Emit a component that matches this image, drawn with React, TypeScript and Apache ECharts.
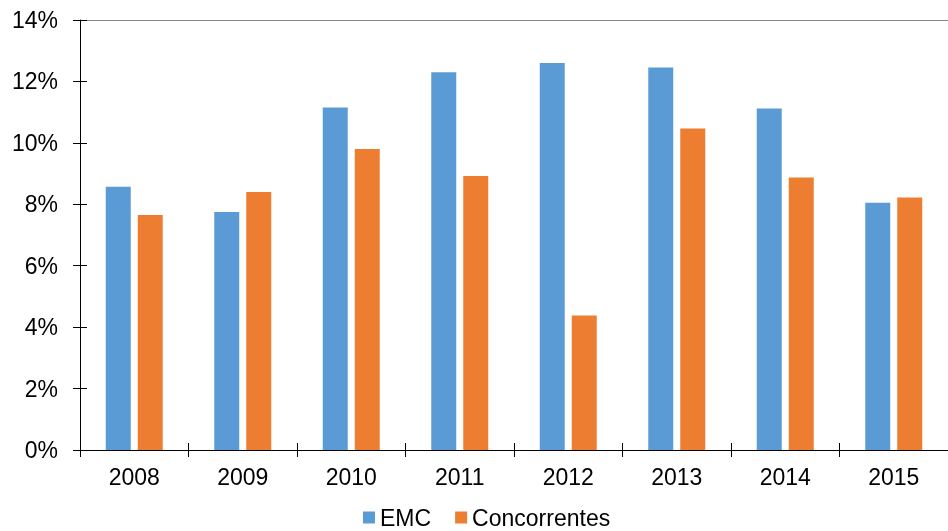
import React, { useEffect, useRef } from "react";
import * as echarts from "echarts";

const categories = ["2008", "2009", "2010", "2011", "2012", "2013", "2014", "2015"];
const emc = [8.57, 7.75, 11.15, 12.3, 12.6, 12.45, 11.12, 8.05];
const concorrentes = [7.65, 8.4, 9.8, 8.92, 4.38, 10.47, 8.87, 8.22];
const seriesNames = ["EMC", "Concorrentes"];

export default function App() {
  const ref = useRef<HTMLDivElement>(null);
  useEffect(() => {
    if (!ref.current) return;
    const chart = echarts.init(ref.current, null, { renderer: "svg" });
    const font = "Liberation Sans, Arial, sans-serif";
    chart.setOption({
      animation: false,
      textStyle: { fontFamily: font },
      grid: { left: 80, right: -10, top: 20, bottom: 81 },
      legend: {
        bottom: -3,
        left: 358,
        itemWidth: 12,
        itemHeight: 12,
        itemGap: 24,
        icon: "rect",
        textStyle: { fontSize: 23, color: "#000", fontFamily: font },
        data: seriesNames,
      },
      xAxis: [
        {
          type: "category",
          data: categories,
          axisLine: { onZero: false, lineStyle: { color: "#000", width: 1 } },
          axisTick: { show: true, length: 7, lineStyle: { color: "#000" } },
          axisLabel: { fontSize: 23, color: "#000", margin: 15, fontFamily: font },
          splitLine: { show: false },
        },
        {
          type: "category",
          data: categories,
          position: "top",
          axisLine: { onZero: false, lineStyle: { color: "#888", width: 1 } },
          axisTick: { show: false },
          axisLabel: { show: false },
        },
        {
          type: "category",
          data: categories,
          position: "bottom",
          axisLine: { show: false, onZero: false },
          axisTick: { show: true, inside: true, length: 7, lineStyle: { color: "#000" } },
          axisLabel: { show: false },
        },
      ],
      yAxis: [
        {
          type: "value",
          min: 0,
          max: 14,
          interval: 2,
          axisLine: { show: true, onZero: false, lineStyle: { color: "#000" } },
          axisTick: { show: true, length: 7, lineStyle: { color: "#000" } },
          axisLabel: {
            fontSize: 23,
            color: "#000",
            margin: 22,
            fontFamily: font,
            formatter: (v: number) => v + "%",
          },
          splitLine: { show: false },
        },
        {
          type: "value",
          min: 0,
          max: 14,
          interval: 2,
          position: "left",
          axisLine: { show: false, onZero: false },
          axisTick: { show: true, inside: true, length: 7, lineStyle: { color: "#000" } },
          axisLabel: { show: false },
          splitLine: { show: false },
        },
      ],
      series: [
        {
          name: seriesNames[0],
          type: "bar",
          data: emc,
          barWidth: 25,
          barGap: "28%",
          itemStyle: { color: "#5B9BD5" },
        },
        {
          name: seriesNames[1],
          type: "bar",
          data: concorrentes,
          barWidth: 25,
          barGap: "28%",
          itemStyle: { color: "#ED7D31" },
        },
      ],
    });
    return () => chart.dispose();
  }, []);
  return <div ref={ref} style={{ width: 948, height: 531, position: "fixed", left: 0, top: 0 }} />;
}
